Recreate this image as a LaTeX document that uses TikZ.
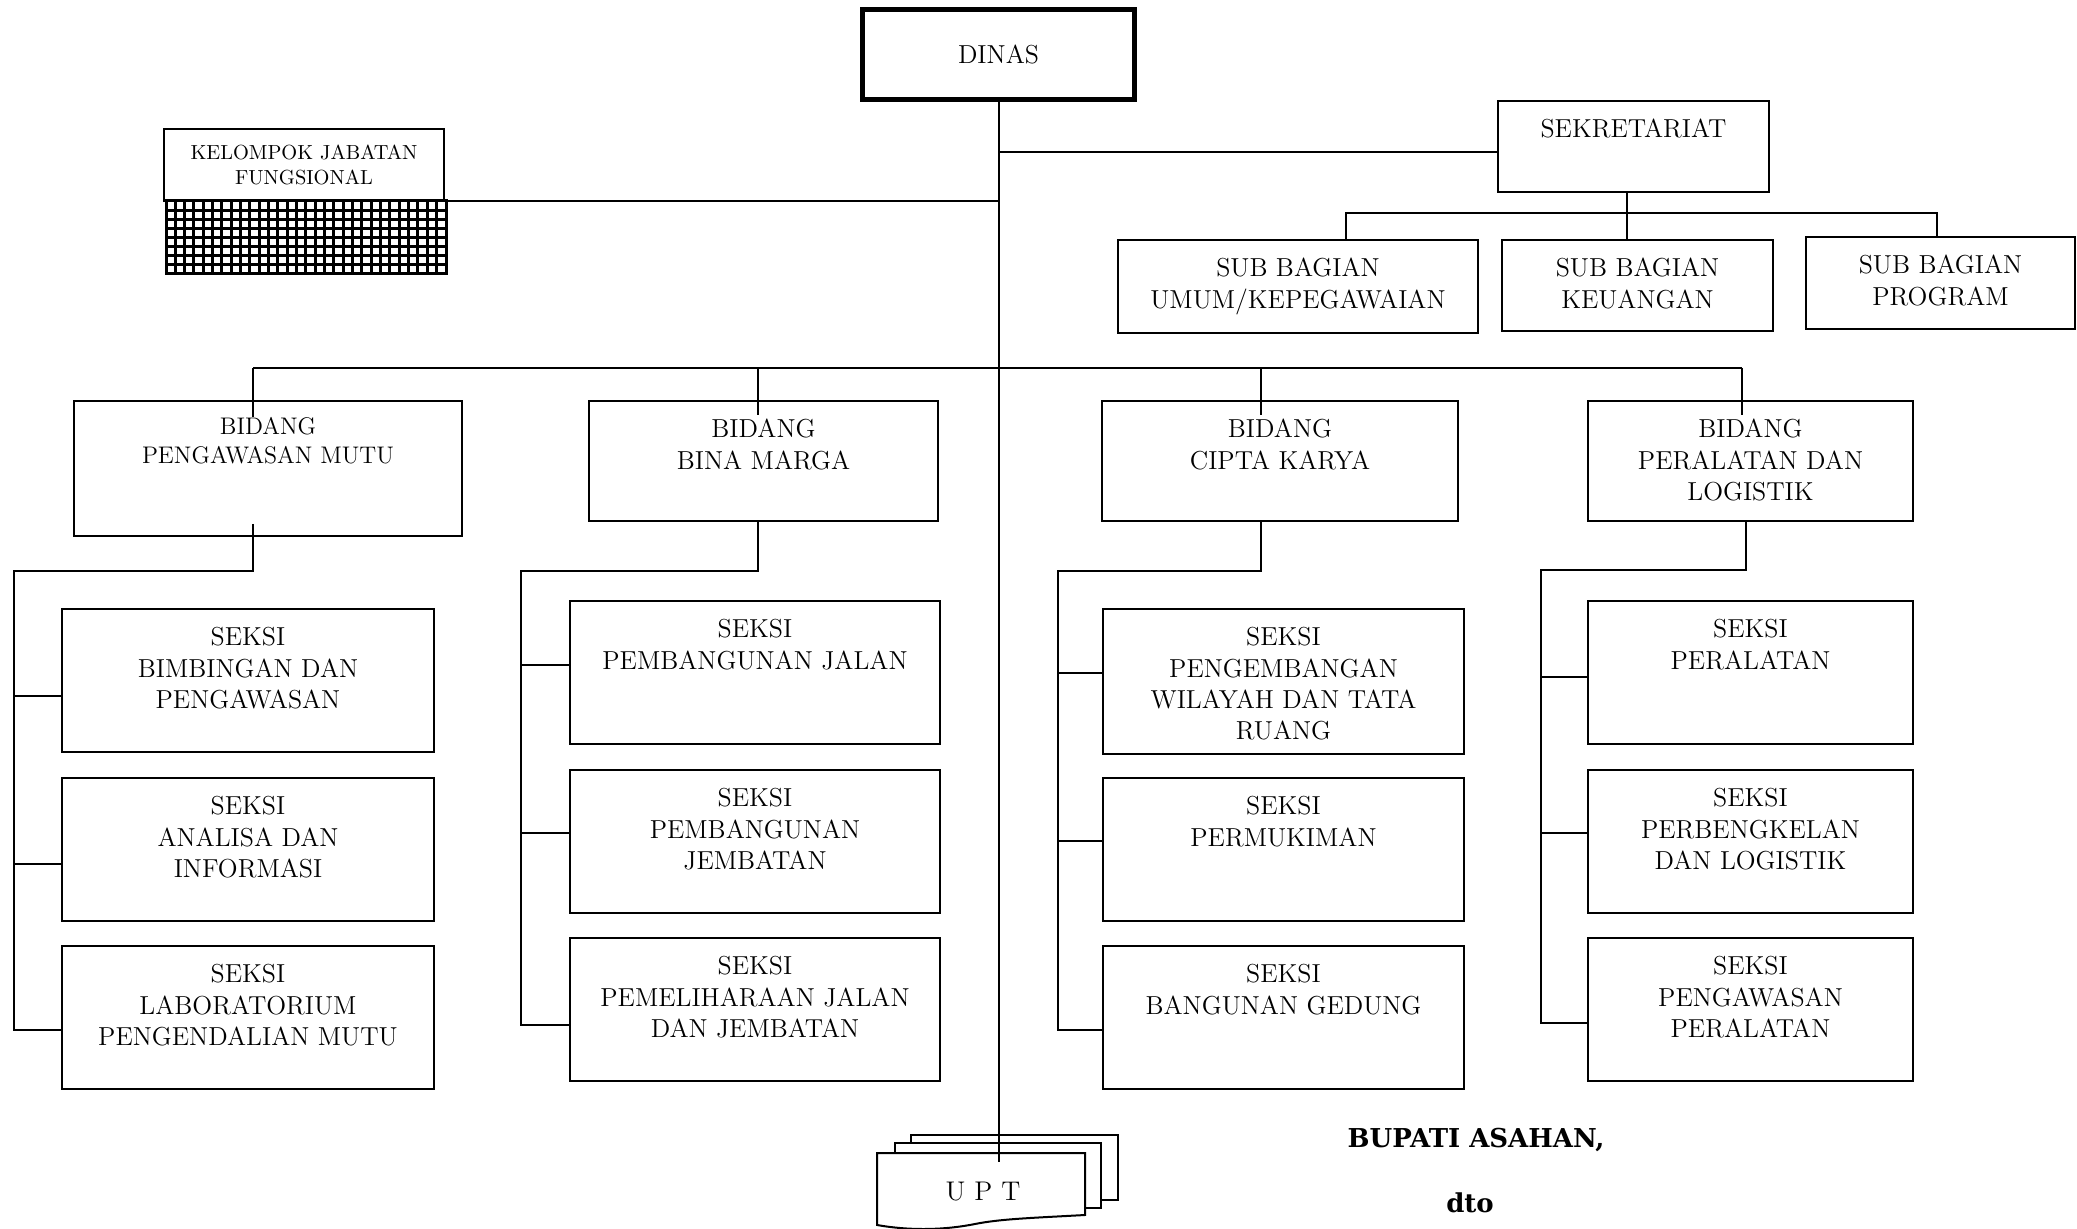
\documentclass[tikz,border=0pt]{standalone}
\usepackage{fontspec}
\newfontfamily\bupfont{DejaVu Serif}
\usetikzlibrary{calc}
\tikzset{
  box/.style={draw, line width=1pt, rectangle, inner sep=0pt, outer sep=0pt},
  conn/.style={line width=1pt},
  otext/.style={align=center, inner sep=0pt, anchor=north, font=\fontsize{13}{15.7}\selectfont},
  smalltext/.style={font=\fontsize{12}{14.5}\selectfont, yshift=1pt},
  kjftext/.style={font=\fontsize{10.2}{12.5}\selectfont, yshift=1.5pt},
  sheet/.style={draw, fill=white, line width=1pt},
  sign/.style={inner sep=0pt, anchor=base, font=\bupfont\bfseries\fontsize{13}{15}\selectfont},
}
\newcommand\obox[7][]{%
  \node[box, minimum width={(#5-#3)*0.5pt}, minimum height={(#6-#4)*0.5pt}] (#2) at ({(#3+#5)/2},{(#4+#6)/2}) {};
  \node[otext, #1] (#2t) at ($(#2.north)+(0,18)$) {#7};
}
\begin{document}
\begin{tikzpicture}[x=0.5pt, y=-0.5pt]
\useasboundingbox (0,0) rectangle (2077,1229);
\fill[white] (0,0) rectangle (2077,1229);

% DINAS
\node[draw, line width=2.5pt, inner sep=0pt, minimum width=136pt, minimum height=45pt,
      font=\fontsize{13}{15.7}\selectfont] (dinas) at (998.5,54.5) {DINAS};

% Kelompok jabatan fungsional
\obox[kjftext]{kjf}{164}{129}{444}{201}{KELOMPOK JABATAN\\FUNGSIONAL}
\node[draw, line width=1.5pt, inner sep=0pt, minimum width=140pt, minimum height=36.5pt] (kjfh) at (306,237.5) {};
\foreach \k in {1,...,29} {\draw[line width=1.5pt] ({166+\k*9.33},201) -- ({166+\k*9.33},274);}
\foreach \k in {1,...,7} {\draw[line width=1.5pt] (166,{201+\k*9.125}) -- (446,{201+\k*9.125});}

% Sekretariat and sub bagian
\obox{sek}{1498}{101}{1769}{192}{SEKRETARIAT}
\obox{sb1}{1118}{240}{1478}{333}{SUB BAGIAN\\UMUM/KEPEGAWAIAN}
\obox{sb2}{1502}{240}{1773}{331}{SUB BAGIAN\\KEUANGAN}
\obox{sb3}{1806}{237}{2075}{329}{SUB BAGIAN\\PROGRAM}

% Bidang
\obox[smalltext]{b1}{74}{401}{462}{536}{BIDANG\\PENGAWASAN MUTU}
\obox{b2}{589}{401}{938}{521}{BIDANG\\BINA MARGA}
\obox{b3}{1102}{401}{1458}{521}{BIDANG\\CIPTA KARYA}
\obox{b4}{1588}{401}{1913}{521}{BIDANG\\PERALATAN DAN\\LOGISTIK}

% Seksi column 1
\obox{s11}{62}{609}{434}{752}{SEKSI\\BIMBINGAN DAN\\PENGAWASAN}
\obox{s12}{62}{778}{434}{921}{SEKSI\\ANALISA DAN\\INFORMASI}
\obox{s13}{62}{946}{434}{1089}{SEKSI\\LABORATORIUM\\PENGENDALIAN MUTU}
% column 2
\obox{s21}{570}{601}{940}{744}{SEKSI\\PEMBANGUNAN JALAN}
\obox{s22}{570}{770}{940}{913}{SEKSI\\PEMBANGUNAN\\JEMBATAN}
\obox{s23}{570}{938}{940}{1081}{SEKSI\\PEMELIHARAAN JALAN\\DAN JEMBATAN}
% column 3
\obox{s31}{1103}{609}{1464}{754}{SEKSI\\PENGEMBANGAN\\WILAYAH DAN TATA\\RUANG}
\obox{s32}{1103}{778}{1464}{921}{SEKSI\\PERMUKIMAN}
\obox{s33}{1103}{946}{1464}{1089}{SEKSI\\BANGUNAN GEDUNG}
% column 4
\obox{s41}{1588}{601}{1913}{744}{SEKSI\\PERALATAN}
\obox{s42}{1588}{770}{1913}{913}{SEKSI\\PERBENGKELAN\\DAN LOGISTIK}
\obox{s43}{1588}{938}{1913}{1081}{SEKSI\\PENGAWASAN\\PERALATAN}

% UPT sheets
\filldraw[sheet] (911,1135) rectangle (1118,1200);
\filldraw[sheet] (895,1143) rectangle (1101,1208);
\filldraw[sheet] (877,1153) -- (1085,1153) -- (1085,1215)
   .. controls (1030,1218) and (1000,1219) .. (975,1224)
   .. controls (940,1231) and (905,1230) .. (877,1225) -- cycle;
\node[inner sep=0pt, font=\fontsize{13.5}{15.7}\selectfont] (upt) at (983,1192) {U\,\,P\,\,T};

% Connectors: trunk
\coordinate (trunkend) at (998.5,1162);
\draw[conn] (dinas.south) -- (trunkend);
\draw[conn] (kjf.south east) -- (kjf.south east -| dinas.south);
\coordinate (sekin) at ($(sek.west)+(0,5.5)$);
\draw[conn] (sekin -| dinas.south) -- (sekin);

% sub bagian bus
\coordinate (sbL) at (1346,213);
\coordinate (sbM) at (1627,213);
\coordinate (sbR) at (1937,213);
\draw[conn] (sbL |- sb1.north) -- (sbL) -- (sbR) -- (sbR |- sb3.north);
\draw[conn] (sbM |- sek.south) -- (sbM |- sb2.north);

% bidang bus
\coordinate (bb1) at (253,368);
\coordinate (bb2) at (758,368);
\coordinate (bb3) at (1261,368);
\coordinate (bb4) at (1742,368);
\draw[conn] (bb1) -- (bb4);
\coordinate (bi1) at (253,417);
\coordinate (bi2) at (758,415);
\coordinate (bi3) at (1261,415);
\coordinate (bi4) at (1742,415);
\draw[conn] (bb1) -- (bi1);
\draw[conn] (bb2) -- (bi2);
\draw[conn] (bb3) -- (bi3);
\draw[conn] (bb4) -- (bi4);

% column 1 spine
\coordinate (o1) at (253,524);
\coordinate (p1t) at (14,571);
\coordinate (p1b) at (14,1030);
\coordinate (t11) at (14,696);
\coordinate (t12) at (14,864);
\draw[conn] (o1) |- (p1t) -- (p1b) -- (p1b -| s13.west);
\draw[conn] (t11) -- (t11 -| s11.west);
\draw[conn] (t12) -- (t12 -| s12.west);

% column 2 spine
\coordinate (o2) at (758,522);
\coordinate (p2t) at (521,571);
\coordinate (p2b) at (521,1025);
\coordinate (t21) at (521,665);
\coordinate (t22) at (521,833);
\draw[conn] (o2) |- (p2t) -- (p2b) -- (p2b -| s23.west);
\draw[conn] (t21) -- (t21 -| s21.west);
\draw[conn] (t22) -- (t22 -| s22.west);

% column 3 spine
\coordinate (o3) at (1261,522);
\coordinate (p3t) at (1058,571);
\coordinate (p3b) at (1058,1030);
\coordinate (t31) at (1058,673);
\coordinate (t32) at (1058,841);
\draw[conn] (o3) |- (p3t) -- (p3b) -- (p3b -| s33.west);
\draw[conn] (t31) -- (t31 -| s31.west);
\draw[conn] (t32) -- (t32 -| s32.west);

% column 4 spine
\coordinate (o4) at (1746,522);
\coordinate (p4t) at (1541,570);
\coordinate (p4b) at (1541,1023);
\coordinate (t41) at (1541,677);
\coordinate (t42) at (1541,833);
\draw[conn] (o4) |- (p4t) -- (p4b) -- (p4b -| s43.west);
\draw[conn] (t41) -- (t41 -| s41.west);
\draw[conn] (t42) -- (t42 -| s42.west);

% signature
\node[sign] (bupati) at (1476,1147) {BUPATI ASAHAN,};
\node[sign] (dto) at (1470,1212) {dto};
\end{tikzpicture}
\end{document}
